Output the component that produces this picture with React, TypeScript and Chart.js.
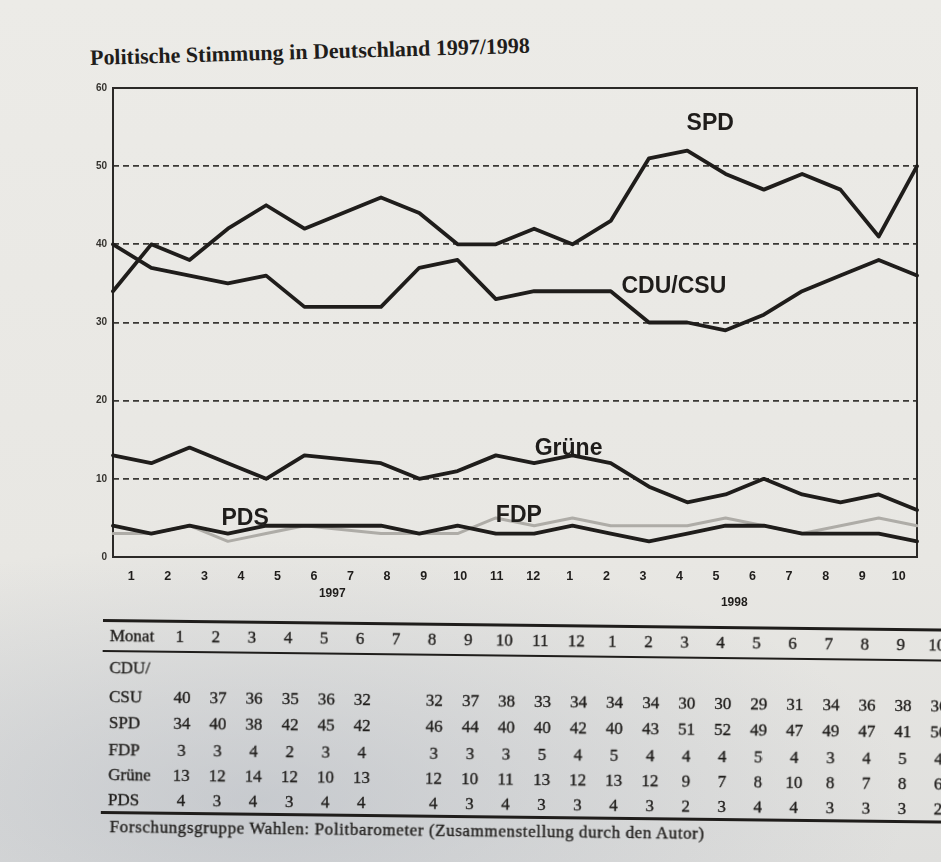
import React, { useEffect, useRef } from "react";
import { Chart, registerables } from "chart.js";

Chart.register(...registerables);

// ---- data ----
const monthLabels = ["1", "2", "3", "4", "5", "6", "7", "8", "9", "10", "11", "12", "1", "2", "3", "4", "5", "6", "7", "8", "9", "10"];
const yearNames = ["1997", "1998"];
const yearMonthCounts = [12, 10];
const cduCsu = [40, 37, 36, 35, 36, 32, null, 32, 37, 38, 33, 34, 34, 34, 30, 30, 29, 31, 34, 36, 38, 36];
const spd = [34, 40, 38, 42, 45, 42, null, 46, 44, 40, 40, 42, 40, 43, 51, 52, 49, 47, 49, 47, 41, 50];
const fdp = [3, 3, 4, 2, 3, 4, null, 3, 3, 3, 5, 4, 5, 4, 4, 4, 5, 4, 3, 4, 5, 4];
const gruene = [13, 12, 14, 12, 10, 13, null, 12, 10, 11, 13, 12, 13, 12, 9, 7, 8, 10, 8, 7, 8, 6];
const pds = [4, 3, 4, 3, 4, 4, null, 4, 3, 4, 3, 3, 4, 3, 2, 3, 4, 4, 3, 3, 3, 2];
const yMin = 0;
const yMax = 60;
const yStep = 10;

// series name annotations, placed in data units (month index, percent)
const seriesNotes = [
  { text: "SPD", at: 15.6, value: 55.4 },
  { text: "CDU/CSU", at: 14.65, value: 34.6 },
  { text: "Grüne", at: 11.9, value: 13.9 },
  { text: "PDS", at: 3.45, value: 4.9 },
  { text: "FDP", at: 10.6, value: 5.3 },
];

const titleText = "Politische Stimmung in Deutschland 1997/1998";
const sourceText = "Forschungsgruppe Wahlen: Politbarometer (Zusammenstellung durch den Autor)";

const tableRows = [
  { label: "CSU", values: cduCsu },
  { label: "SPD", values: spd },
  { label: "FDP", values: fdp },
  { label: "Grüne", values: gruene },
  { label: "PDS", values: pds },
];

const INK = "#1f1d1b";
const SANS = "'Liberation Sans', Arial, sans-serif";
const SERIF = "'Liberation Serif', 'Times New Roman', serif";

export default function App() {
  const canvasRef = useRef<HTMLCanvasElement | null>(null);

  useEffect(() => {
    const canvas = canvasRef.current;
    if (!canvas) return;

    const framePlugin = {
      id: "frame",
      beforeDatasetsDraw(chart: any) {
        const { ctx, chartArea: a } = chart;
        ctx.save();
        ctx.strokeStyle = "#2b2927";
        ctx.lineWidth = 2;
        ctx.strokeRect(a.left, a.top, a.right - a.left, a.bottom - a.top);
        ctx.restore();
      },
    };

    const notesPlugin = {
      id: "notes",
      afterDatasetsDraw(chart: any) {
        const { ctx } = chart;
        const x = chart.scales.x;
        const y = chart.scales.y;
        const xl = chart.scales.xl;
        ctx.save();
        ctx.fillStyle = INK;
        ctx.textAlign = "center";
        ctx.textBaseline = "middle";
        ctx.font = `bold 23px ${SANS}`;
        seriesNotes.forEach((n) => {
          ctx.fillText(n.text, x.getPixelForValue(n.at), y.getPixelForValue(n.value));
        });
        // year labels under month ticks
        ctx.font = `bold 12px ${SANS}`;
        let start = 0;
        yearNames.forEach((yr, i) => {
          const cnt = yearMonthCounts[i];
          const px = (xl.getPixelForTick(start) + xl.getPixelForTick(start + cnt - 1)) / 2;
          ctx.fillText(yr, px, i === 0 ? 594 : 603);
          start += cnt;
        });
        ctx.restore();
      },
    };

    const lineDs = (label: string, data: (number | null)[], color: string, width: number) => ({
      label,
      data,
      borderColor: color,
      backgroundColor: color,
      borderWidth: width,
      pointRadius: 0,
      tension: 0,
      spanGaps: true,
      fill: false,
      xAxisID: "x",
      yAxisID: "y",
    });

    const chart = new Chart(canvas, {
      type: "line",
      data: {
        labels: monthLabels,
        datasets: [
          lineDs("SPD", spd, INK, 3.8),
          lineDs("CDU/CSU", cduCsu, INK, 3.8),
          lineDs("Grüne", gruene, INK, 3.8),
          lineDs("PDS", pds, INK, 3.8),
          lineDs("FDP", fdp, "#aeaca7", 3),
        ] as any,
      },
      options: {
        animation: false,
        responsive: false,
        devicePixelRatio: 1,
        layout: { padding: { left: 83, right: 24, top: 88, bottom: 28 } },
        elements: { line: { borderJoinStyle: "round", borderCapStyle: "round" } },
        plugins: {
          legend: { display: false },
          tooltip: { enabled: false },
          title: { display: false },
        },
        scales: {
          x: { type: "category", offset: false, display: false },
          xl: {
            type: "category",
            labels: monthLabels,
            position: "bottom",
            offset: true,
            grid: { display: false, drawTicks: false },
            border: { display: false },
            ticks: {
              autoSkip: false,
              maxRotation: 0,
              padding: 12,
              color: INK,
              font: { family: SANS, size: 12.5, weight: "bold" },
            },
            afterFit(s: any) {
              s.height = 30;
            },
          },
          y: {
            min: yMin,
            max: yMax,
            ticks: {
              stepSize: yStep,
              padding: 6,
              color: "#35332f",
              font: { family: SANS, size: 10, weight: "bold" },
            },
            grid: { color: "#3a3835", lineWidth: 1.8, drawTicks: false },
            border: { display: false, dash: [6, 4] },
            afterFit(s: any) {
              s.width = 30;
            },
          },
        } as any,
      },
      plugins: [framePlugin, notesPlugin],
    });

    return () => chart.destroy();
  }, []);

  const colX = (k: number) => 180 + k * 36.05;
  const rowY = [697, 723, 750, 775, 800];

  const cell = (text: string, cx: number, cy: number, key: string) => (
    <div
      key={key}
      style={{
        position: "absolute",
        left: cx - 20,
        top: cy - 11,
        width: 40,
        height: 22,
        lineHeight: "22px",
        textAlign: "center",
      }}
    >
      {text}
    </div>
  );

  return (
    <div
      style={{
        position: "absolute",
        left: 0,
        top: 0,
        width: 941,
        height: 862,
        overflow: "hidden",
        background:
          "radial-gradient(ellipse 650px 260px at 260px 800px, rgba(160,168,182,0.4), rgba(160,168,182,0) 100%), linear-gradient(to bottom, #ecebe7 0%, #e8e7e3 65%, #dfdfdd 100%)",
        color: INK,
      }}
    >
      <div
        style={{
          position: "absolute",
          left: 90,
          top: 45,
          font: `bold 22px ${SERIF}`,
          lineHeight: "26px",
          whiteSpace: "nowrap",
          transform: "rotate(-1.6deg)",
          transformOrigin: "0 50%",
        }}
      >
        {titleText}
      </div>

      <canvas
        ref={canvasRef}
        width={941}
        height={615}
        style={{ position: "absolute", left: 0, top: 0, width: 941, height: 615 }}
      />

      <div
        style={{
          position: "absolute",
          left: 0,
          top: 0,
          width: 1000,
          height: 862,
          font: `17px ${SERIF}`,
          WebkitTextStroke: "0.35px #1f1d1b",
          transform: "rotate(0.65deg)",
          transformOrigin: "103px 620px",
        }}
      >
        <div style={{ position: "absolute", left: 103, top: 619, width: 900, borderTop: `3px solid ${INK}` }} />
        <div style={{ position: "absolute", left: 103, top: 650, width: 900, borderTop: `2px solid ${INK}` }} />
        <div style={{ position: "absolute", left: 103, top: 811, width: 900, borderTop: `3px solid ${INK}` }} />
        <div style={{ position: "absolute", left: 110, top: 625, lineHeight: "22px" }}>Monat</div>
        {monthLabels.map((m, k) => cell(m, colX(k), 636, "h" + k))}
        <div style={{ position: "absolute", left: 110, top: 657, lineHeight: "22px" }}>CDU/</div>
        {tableRows.map((r, ri) => (
          <React.Fragment key={r.label}>
            <div style={{ position: "absolute", left: 110, top: rowY[ri] - 11, lineHeight: "22px" }}>{r.label}</div>
            {r.values.map((v, k) => (v === null ? null : cell(String(v), colX(k) + 3, rowY[ri], r.label + k)))}
          </React.Fragment>
        ))}
        <div
          style={{
            position: "absolute",
            left: 112,
            top: 817,
            lineHeight: "20px",
            fontSize: 17,
            letterSpacing: "0.6px",
            whiteSpace: "nowrap",
          }}
        >
          {sourceText}
        </div>
      </div>
    </div>
  );
}
